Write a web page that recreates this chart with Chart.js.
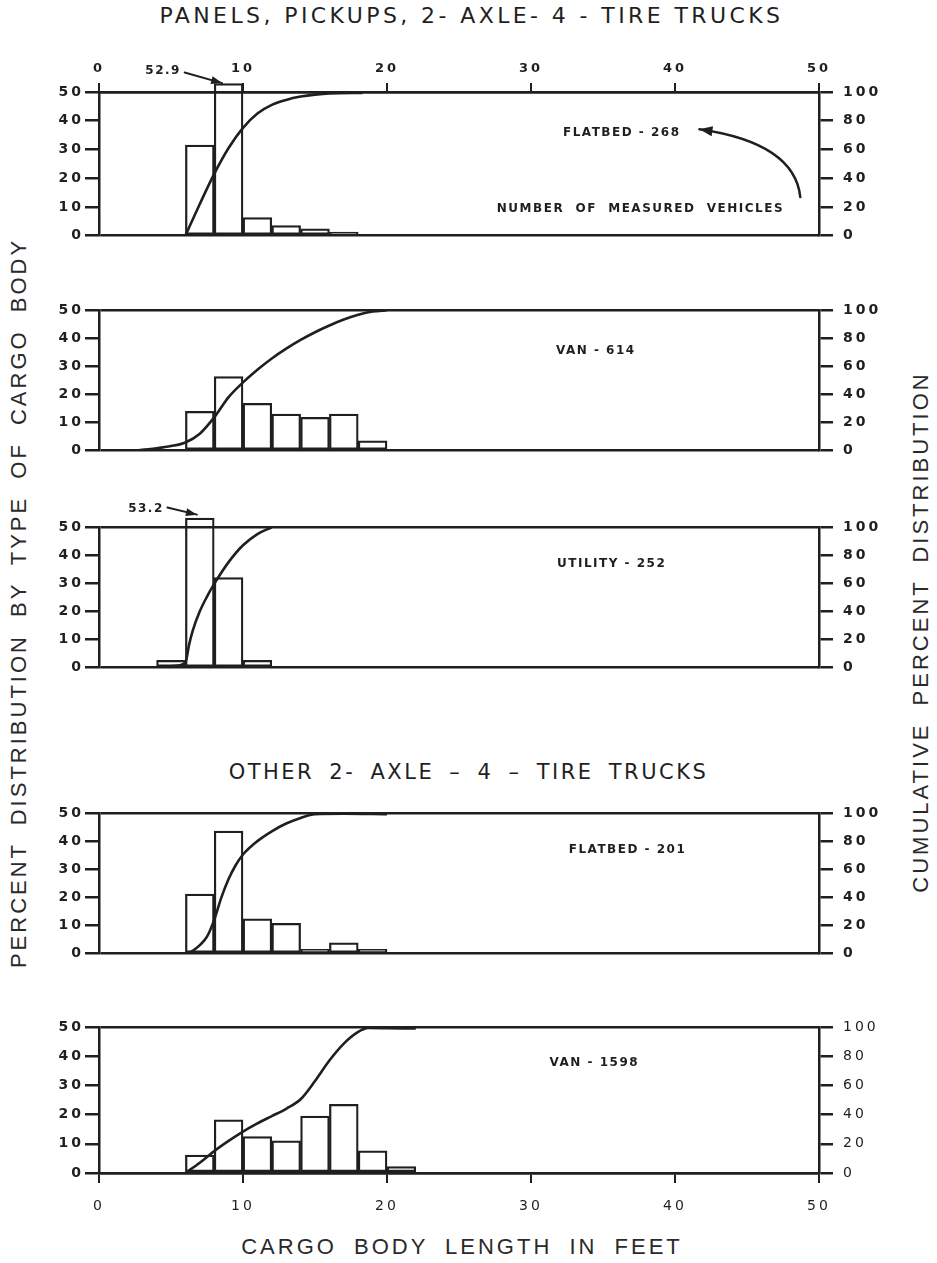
<!DOCTYPE html>
<html>
<head>
<meta charset="utf-8">
<title>Cargo body length distribution</title>
<script src="https://cdn.jsdelivr.net/npm/chart.js@4.4.1/dist/chart.umd.min.js"></script>
<style>
  html, body { margin: 0; padding: 0; background: #fff; }
  #page { position: relative; width: 937px; height: 1263px; overflow: hidden; background: #fff; color: #1f1f1f; }
  #page canvas { position: absolute; left: 0; }
  .heading { position: absolute; left: 0; width: 937px; text-align: center; white-space: pre;
             font-family: "DejaVu Sans", sans-serif; font-size: 20px; letter-spacing: 2.5px; line-height: 24px; }
  .axisTitle { position: absolute; white-space: pre; font-family: "Liberation Sans", Arial, sans-serif;
               font-size: 22px; letter-spacing: 3px; word-spacing: 8px; line-height: 26px; color: #2a2a2a;
               transform: translate(-50%, -50%); }
  .vertical { transform: translate(-50%, -50%) rotate(-90deg); }
</style>
</head>
<body>
<div id="page">
  <div class="heading" style="top:4px; left:3px; font-size:22px; letter-spacing:3.4px;">PANELS, PICKUPS, 2- AXLE- 4 - TIRE TRUCKS</div>
  <div class="heading" style="top:760px; left:0px; font-size:21px; word-spacing:6px;">OTHER 2- AXLE – 4 – TIRE TRUCKS</div>
  <div class="axisTitle vertical" style="left:19px; top:603px;">PERCENT DISTRIBUTION BY TYPE OF CARGO BODY</div>
  <div class="axisTitle vertical" style="left:921px; top:632px;">CUMULATIVE PERCENT DISTRIBUTION</div>
  <div class="axisTitle" style="left:462px; top:1247px;">CARGO BODY LENGTH IN FEET</div>
</div>
<script>
// ---- axis ticks ----
const lengthTicks = [0, 10, 20, 30, 40, 50];        // cargo body length, ft
const percentTicks = [0, 10, 20, 30, 40, 50];       // percent distribution
const cumulativeTicks = [0, 20, 40, 60, 80, 100];   // cumulative percent

// every histogram bin is 2 ft wide; arrays hold the bin's left edge
const BIN_FT = 2;

// ---- panels, pickups: flatbed ----
const pickupFlatbedName = 'FLATBED - 268';
const pickupFlatbedBins = [6, 8, 10, 12, 14, 16];
const pickupFlatbedPct = [31.5, 52.9, 6.3, 3.5, 2.4, 1.2];
const pickupFlatbedCumFt = [6, 7, 8, 9, 10, 11, 12, 13, 14, 15, 16, 18.3];
const pickupFlatbedCumPct = [0, 22, 43, 61, 75, 85, 91, 94.5, 96.8, 98.2, 99, 99.3];

// ---- panels, pickups: van ----
const pickupVanName = 'VAN - 614';
const pickupVanBins = [6, 8, 10, 12, 14, 16, 18];
const pickupVanPct = [14, 26.3, 16.8, 13, 11.8, 13, 3.5];
const pickupVanCumFt = [2.6, 3, 4, 5, 6, 7, 8, 9, 10, 11, 12, 13, 14, 15, 16, 17, 18, 19, 20];
const pickupVanCumPct = [0, 0.5, 1.6, 3.2, 5.8, 12, 23.6, 38, 48.5, 57.5, 65.5, 72.5, 78.7, 84.2, 89, 93.2, 96.6, 98.9, 99.8];

// ---- panels, pickups: utility ----
const pickupUtilityName = 'UTILITY - 252';
const pickupUtilityBins = [4, 6, 8, 10];
const pickupUtilityPct = [2.6, 53.2, 32, 2.6];
const pickupUtilityCumFt = [4.2, 5, 6, 6.25, 6.5, 7, 7.5, 8, 9, 10, 11, 12];
const pickupUtilityCumPct = [0, 1, 3.5, 16, 26, 40, 50.5, 59.5, 75, 87, 95, 99.8];

// ---- other 2-axle 4-tire: flatbed ----
const otherFlatbedName = 'FLATBED - 201';
const otherFlatbedBins = [6, 8, 10, 12, 14, 16, 18];
const otherFlatbedPct = [21.2, 43.6, 12.4, 10.8, 1.5, 3.8, 1.5];
const otherFlatbedCumFt = [6, 6.5, 7, 7.5, 8, 8.5, 9, 9.5, 10, 11, 12, 13, 14, 15, 17, 20];
const otherFlatbedCumPct = [0, 2, 6, 12, 24, 40, 53, 63, 70.5, 80, 87, 92.5, 96.5, 99.2, 99.5, 99.2];

// ---- other 2-axle 4-tire: van ----
const otherVanName = 'VAN - 1598';
const otherVanBins = [6, 8, 10, 12, 14, 16, 18, 20];
const otherVanPct = [6.1, 18.2, 12.5, 11, 19.5, 23.5, 7.6, 2.2];
const otherVanCumFt = [6, 7, 8, 9, 10, 11, 12, 13, 14, 15, 16, 17, 18, 18.7, 20, 22];
const otherVanCumPct = [0, 7, 15, 22, 28.4, 34, 39, 44, 50.5, 63, 77, 88.6, 96.6, 99.3, 99.2, 99];

const calloutText = 'NUMBER  OF  MEASURED  VEHICLES';

// ---- drawing ----
const INK = '#1f1f1f';
const FACE = '"DejaVu Sans", "Liberation Sans", sans-serif';

// wide, letter-spaced stencil look for all canvas text
const spacing = {
  id: 'spacing',
  beforeUpdate(chart) { chart.ctx.letterSpacing = '3px'; },
  beforeDraw(chart) { chart.ctx.letterSpacing = '3px'; }
};

function arrowHead(ctx, fx, fy, tx, ty, len, half) {
  const a = Math.atan2(ty - fy, tx - fx);
  ctx.beginPath();
  ctx.moveTo(tx, ty);
  ctx.lineTo(tx - len * Math.cos(a) + half * Math.sin(a), ty - len * Math.sin(a) - half * Math.cos(a));
  ctx.lineTo(tx - len * Math.cos(a) - half * Math.sin(a), ty - len * Math.sin(a) + half * Math.cos(a));
  ctx.closePath();
  ctx.fill();
}

// labels and arrows placed in data units (ft, percent)
function notes(items) {
  return {
    id: 'notes',
    afterDraw(chart) {
      const { ctx } = chart;
      const x = chart.scales.x, y = chart.scales.yL;
      const px = v => x.getPixelForValue(v), py = v => y.getPixelForValue(v);
      ctx.save();
      ctx.fillStyle = INK;
      ctx.strokeStyle = INK;
      ctx.lineCap = 'round';
      ctx.letterSpacing = '1.5px';
      items.forEach(it => {
        if (it.text) {
          ctx.font = 'bold 12px ' + FACE;
          ctx.textAlign = 'center';
          ctx.textBaseline = 'middle';
          ctx.fillText(it.text, px(it.at[0]), py(it.at[1]));
        }
        if (it.arrow) {
          const [[x1, y1], [x2, y2]] = it.arrow;
          const fx = px(x1), fy = py(y1), tx = px(x2), ty = py(y2);
          ctx.lineWidth = 2;
          ctx.beginPath(); ctx.moveTo(fx, fy); ctx.lineTo(tx, ty); ctx.stroke();
          arrowHead(ctx, fx, fy, tx, ty, 11, 4);
        }
        if (it.curve) {
          const [[x1, y1], [cx, cy], [x2, y2]] = it.curve;
          const c = [px(cx), py(cy)], e = [px(x2), py(y2)];
          ctx.lineWidth = 2.5;
          ctx.beginPath(); ctx.moveTo(px(x1), py(y1)); ctx.quadraticCurveTo(c[0], c[1], e[0], e[1]); ctx.stroke();
          arrowHead(ctx, c[0], c[1], e[0], e[1], 13, 5);
        }
      });
      ctx.restore();
    }
  };
}

function fixedTicks(values) {
  return scale => { scale.ticks = values.map(v => ({ value: v })); };
}

function panel(p) {
  const canvas = document.createElement('canvas');
  const axisH = p.axis === 'top' ? 42 : p.axis === 'bottom' ? 45 : 0;
  const padTop = p.axis === 'top' ? 0 : 30;
  const padBottom = p.axis === 'bottom' ? 0 : 15;
  const plotH = p.bottom - p.top;
  canvas.width = 937;
  canvas.height = padTop + plotH + padBottom + axisH;
  canvas.style.top = (p.top - padTop - (p.axis === 'top' ? axisH : 0)) + 'px';
  document.getElementById('page').appendChild(canvas);

  const bars = p.bins.map((b, i) => ({ x: b + BIN_FT / 2, y: p.pct[i] }));
  const curve = p.cumFt.map((f, i) => ({ x: f, y: p.cumPct[i] }));
  const tickFont = { family: FACE, size: 14, weight: 'bold' };
  const thinFont = { family: FACE, size: 14, weight: 'normal' };

  new Chart(canvas, {
    type: 'bar',
    data: {
      datasets: [
        {
          type: 'line', data: curve, yAxisID: 'yR', order: 0,
          borderColor: INK, borderWidth: 2.6, pointRadius: 0,
          cubicInterpolationMode: 'monotone', fill: false
        },
        {
          type: 'bar', data: bars, yAxisID: 'yL', order: 1,
          backgroundColor: 'rgba(255,255,255,0)', borderColor: INK, borderWidth: 1.6,
          borderSkipped: false, categoryPercentage: 1, barPercentage: 1, clip: false
        }
      ]
    },
    options: {
      responsive: false,
      animation: false,
      events: [],
      layout: { padding: { top: padTop, bottom: padBottom, left: 0, right: 0 } },
      plugins: { legend: { display: false }, tooltip: { enabled: false } },
      scales: {
        x: {
          type: 'linear', min: 0, max: 50, offset: false,
          display: p.axis !== 'none',
          position: p.axis === 'top' ? 'top' : 'bottom',
          afterBuildTicks: fixedTicks(lengthTicks),
          afterFit: s => { s.height = axisH; },
          grid: { offset: false, drawOnChartArea: false, color: INK, lineWidth: 2, tickLength: p.axis === 'top' ? 9 : 10 },
          border: { display: true, color: INK, width: 2.5 },
          ticks: {
            color: INK, padding: p.axis === 'top' ? 7 : 15, maxRotation: 0,
            font: p.axis === 'top' ? { family: FACE, size: 13, weight: 'bold' } : thinFont
          }
        },
        yL: {
          type: 'linear', position: 'left', min: 0, max: 50,
          afterBuildTicks: fixedTicks(percentTicks),
          afterFit: s => { s.width = 99; },
          grid: {
            color: c => (c.tick && (c.tick.value === 0 || c.tick.value === 50)) ? INK : 'rgba(0,0,0,0)',
            tickColor: INK, lineWidth: 2.5, tickLength: 14
          },
          border: { display: true, color: INK, width: 2.5 },
          ticks: { color: INK, padding: 1, font: tickFont }
        },
        yR: {
          type: 'linear', position: 'right', min: 0, max: 100,
          afterBuildTicks: fixedTicks(cumulativeTicks),
          afterFit: s => { s.width = 118; },
          grid: { drawOnChartArea: false, color: INK, lineWidth: 2.5, tickLength: 14 },
          border: { display: true, color: INK, width: 2.5 },
          ticks: { color: INK, padding: 10, font: p.lightRight ? thinFont : tickFont }
        }
      }
    },
    plugins: [spacing, notes(p.notes)]
  });
}

[
  {
    top: 92, bottom: 239, axis: 'top',
    bins: pickupFlatbedBins, pct: pickupFlatbedPct, cumFt: pickupFlatbedCumFt, cumPct: pickupFlatbedCumPct,
    notes: [
      { text: pickupFlatbedName, at: [36.3, 35.6] },
      { text: calloutText, at: [37.6, 9.2] },
      { curve: [[48.7, 13.4], [48.3, 32.2], [41.7, 37]] },
      { text: String(pickupFlatbedPct[1]), at: [4.45, 57.2] },
      { arrow: [[5.95, 56.8], [8.55, 53.1]] }
    ]
  },
  {
    top: 310, bottom: 454, axis: 'none',
    bins: pickupVanBins, pct: pickupVanPct, cumFt: pickupVanCumFt, cumPct: pickupVanCumPct,
    notes: [{ text: pickupVanName, at: [34.5, 35.4] }]
  },
  {
    top: 527, bottom: 671, axis: 'none',
    bins: pickupUtilityBins, pct: pickupUtilityPct, cumFt: pickupUtilityCumFt, cumPct: pickupUtilityCumPct,
    notes: [
      { text: pickupUtilityName, at: [35.6, 36.8] },
      { text: String(pickupUtilityPct[1]), at: [3.26, 56.6] },
      { arrow: [[4.75, 56.9], [6.8, 54.4]] }
    ]
  },
  {
    top: 813, bottom: 957, axis: 'none',
    bins: otherFlatbedBins, pct: otherFlatbedPct, cumFt: otherFlatbedCumFt, cumPct: otherFlatbedCumPct,
    notes: [{ text: otherFlatbedName, at: [36.7, 36.8] }]
  },
  {
    top: 1027, bottom: 1173, axis: 'bottom', lightRight: true,
    bins: otherVanBins, pct: otherVanPct, cumFt: otherVanCumFt, cumPct: otherVanCumPct,
    notes: [{ text: otherVanName, at: [34.4, 37.7] }]
  }
].forEach(panel);
</script>
</body>
</html>
